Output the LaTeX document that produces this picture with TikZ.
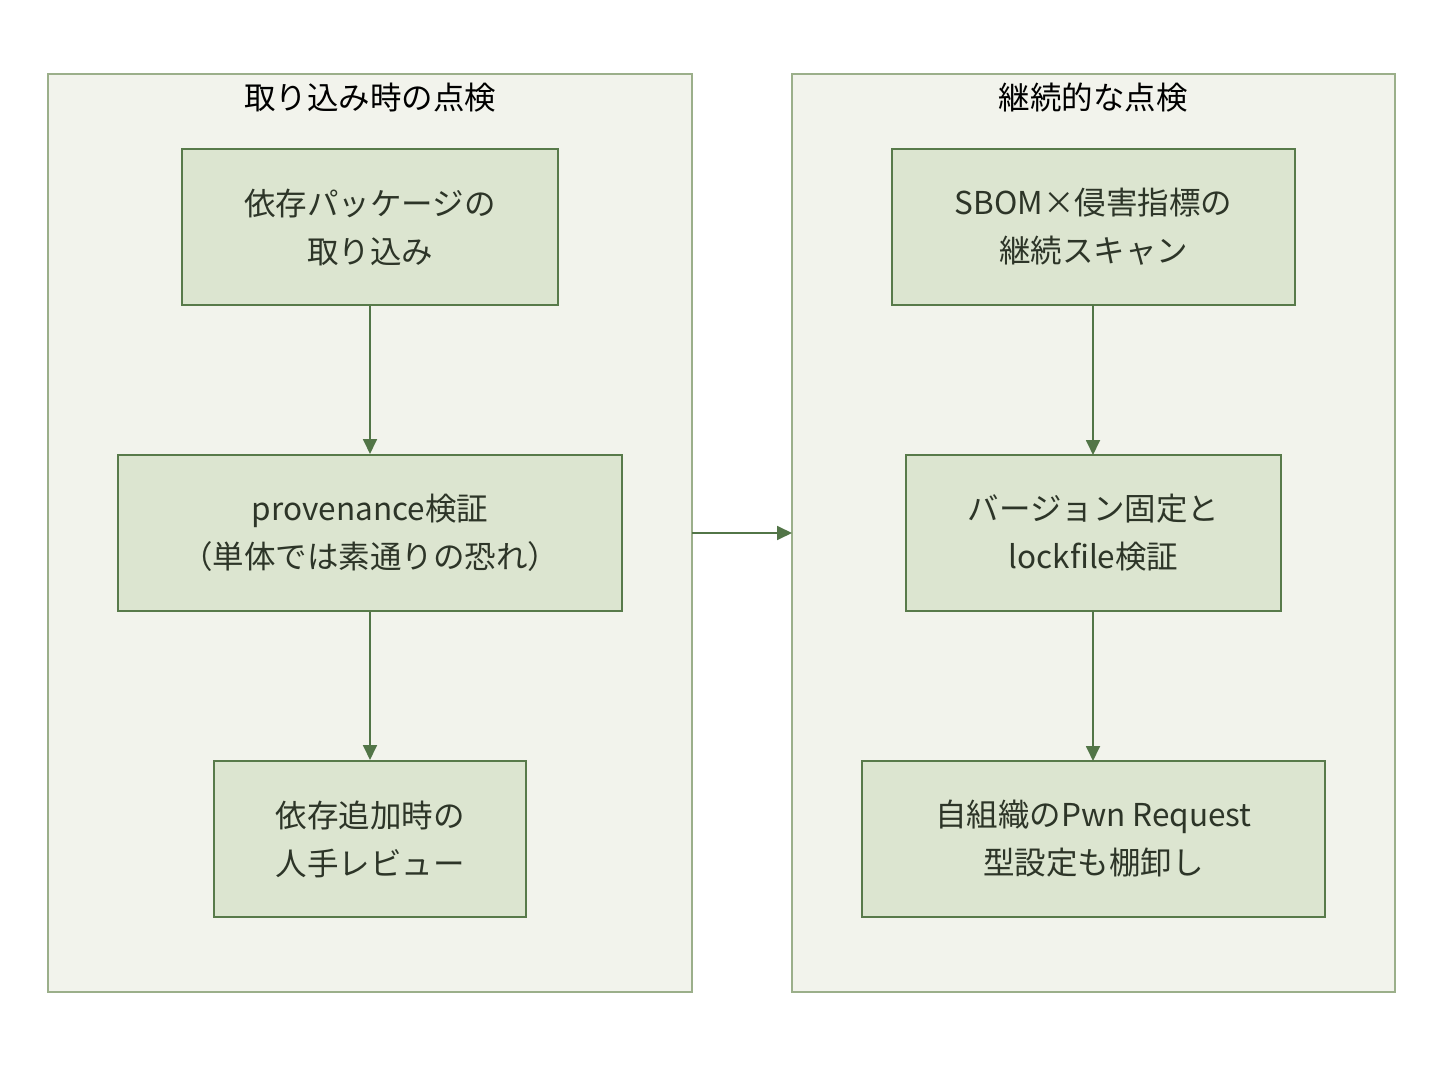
\documentclass[tikz,border=0pt]{standalone}
\usepackage{fontspec}
\setmainfont{Noto Sans CJK JP}
\usetikzlibrary{arrows.meta}
\definecolor{clfill}{HTML}{F2F3EC}
\definecolor{cldraw}{HTML}{9BAF8A}
\definecolor{ndfill}{HTML}{DCE5D0}
\definecolor{nddraw}{HTML}{587A4A}
\definecolor{arr}{HTML}{527547}
\definecolor{txt}{HTML}{2D3528}
\tikzset{
  cluster/.style={draw=cldraw, fill=clfill, line width=1.5pt},
  stepbox/.style={draw=nddraw, fill=ndfill, line width=2pt, text=txt, align=center, inner sep=0pt,
    font=\fontsize{31.5}{48}\selectfont},
  cltitle/.style={text=black, font=\fontsize{31.5}{36}\selectfont, inner sep=0pt},
  conn/.style={draw=arr, line width=1.8pt, -{Triangle[length=15pt,width=14pt]}},
}
\begin{document}
\begin{tikzpicture}[x=1pt,y=-1pt]
\useasboundingbox (0,0) rectangle (1444,1070);
\fill[white] (0,0) rectangle (1444,1070);
% clusters
\draw[cluster] (48,74) rectangle (692,992);
\node[cltitle] (t1) at (370,98) {取り込み時の点検};
\draw[cluster] (792,74) rectangle (1395,992);
\node[cltitle] (t2) at (1093,98) {継続的な点検};
\coordinate (c1r) at (692,533);
\coordinate (c2l) at (792,533);
% nodes left
\node[stepbox, minimum width=376pt, minimum height=156pt] (a) at (370,227) {依存パッケージの\\取り込み};
\node[stepbox, minimum width=504pt, minimum height=156pt] (b) at (370,533) {provenance検証\\（単体では素通りの恐れ）};
\node[stepbox, minimum width=312pt, minimum height=156pt] (c) at (370,839) {依存追加時の\\人手レビュー};
% nodes right
\node[stepbox, minimum width=403pt, minimum height=156pt] (d) at (1093.5,227) {SBOM×侵害指標の\\継続スキャン};
\node[stepbox, minimum width=375pt, minimum height=156pt] (e) at (1093.5,533) {バージョン固定と\\lockfile検証};
\node[stepbox, minimum width=463pt, minimum height=156pt] (f) at (1093.5,839) {自組織のPwn Request\\型設定も棚卸し};
\coordinate (dS) at (1093,305);
\coordinate (eN) at (1093,455);
\coordinate (eS) at (1093,611);
\coordinate (fN) at (1093,761);
% connectors
\draw[conn] (a) -- (b);
\draw[conn] (b) -- (c);
\draw[conn] (dS) -- (eN);
\draw[conn] (eS) -- (fN);
\draw[conn] (c1r) -- (c2l);
\end{tikzpicture}
\end{document}
